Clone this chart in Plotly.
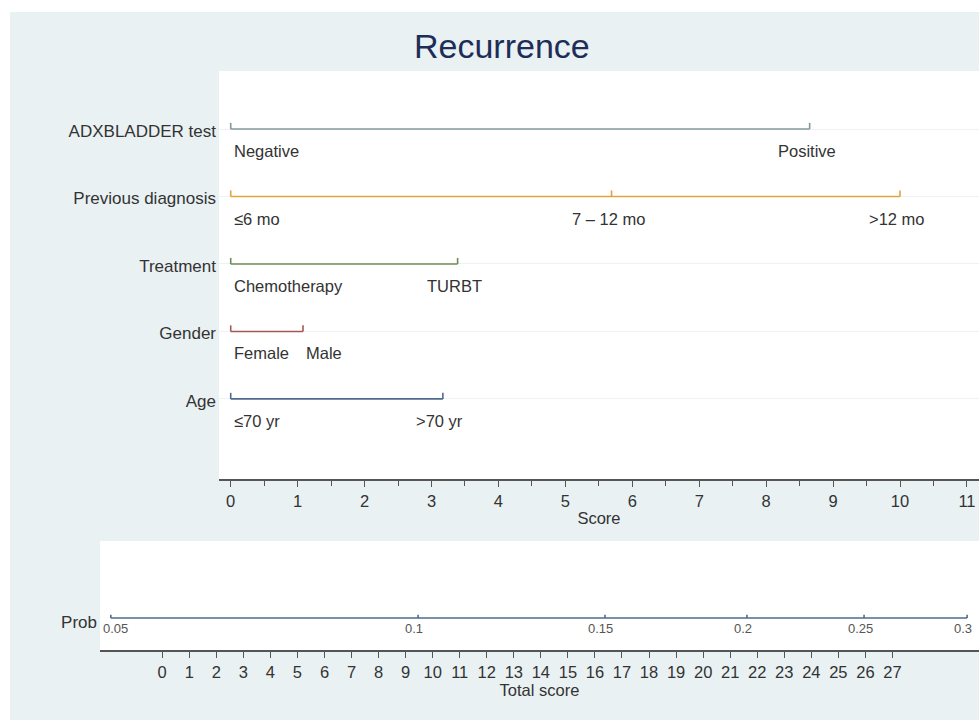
import numpy as np
import plotly.graph_objects as go

# ---------------- data ----------------
variables = ["ADXBLADDER test", "Previous diagnosis", "Treatment", "Gender", "Age"]
levels = [
    ["Negative", "Positive"],
    ["≤6 mo", "7 – 12 mo", ">12 mo"],
    ["Chemotherapy", "TURBT"],
    ["Female", "Male"],
    ["≤70 yr", ">70 yr"],
]
level_scores = [
    [0, 8.65],
    [0, 5.69, 10.0],
    [0, 3.39],
    [0, 1.08],
    [0, 3.17],
]
score_ticks = list(range(0, 12))
total_ticks = list(range(0, 28))
prob_labels = ["0.05", "0.1", "0.15", "0.2", "0.25", "0.3"]
prob_total_score = [-1.90, 9.46, 16.37, 21.62, 25.95, 29.76]

# ---------------- style ----------------
W, H = 979, 720
colors = ["#82999a", "#e2a23c", "#6f8d52", "#a65656", "#4e6b8e"]
label_anchor = [
    ["left", "center"],
    ["left", "center", "center"],
    ["left", "center"],
    ["left", "left"],
    ["left", "center"],
]
prob_color = "#4e6b8e"
text_color = "#333333"
axis_color = "#555555"
FONT = "Liberation Sans, Arial, sans-serif"

def py(p):  # pixel y -> paper
    return (H - p) / H

def px(p):
    return p / W

fig = go.Figure()

rows = list(range(len(variables), 0, -1))  # 5..1
tick_h = 0.09
annotations = []
for i, (var, levs, vals) in enumerate(zip(variables, levels, level_scores)):
    r = rows[i]
    xs = [min(vals), max(vals), None]
    ys = [r, r, None]
    for v in vals:
        xs += [v, v, None]
        ys += [r, r + tick_h, None]
    fig.add_trace(go.Scatter(x=xs, y=ys, mode="lines",
                             line=dict(color=colors[i], width=1.6),
                             hoverinfo="skip", showlegend=False,
                             xaxis="x", yaxis="y"))
    for lab, v, anc in zip(levs, vals, label_anchor[i]):
        annotations.append(dict(x=v, y=r, xref="x", yref="y", text=lab,
                                showarrow=False, xanchor=anc, yanchor="middle",
                                yshift=-22, xshift=(1 if anc == "left" else -3),
                                font=dict(size=16.5, color=text_color, family=FONT)))

# probability line
prow = 1
pxs = [min(prob_total_score), max(prob_total_score), None]
pys = [prow, prow, None]
for v in prob_total_score:
    pxs += [v, v, None]
    pys += [prow, prow + 0.05, None]
fig.add_trace(go.Scatter(x=pxs, y=pys, mode="lines",
                         line=dict(color=prob_color, width=1.6),
                         hoverinfo="skip", showlegend=False,
                         xaxis="x2", yaxis="y2"))
for lab, v in zip(prob_labels, prob_total_score):
    annotations.append(dict(x=v, y=prow, xref="x2", yref="y2", text=lab,
                            showarrow=False, xanchor="center", yanchor="middle",
                            yshift=-10, xshift=(5 if lab == "0.05" else -4),
                            font=dict(size=13, color="#555555", family=FONT)))

annotations.append(dict(x=px(502), y=py(46), xref="paper", yref="paper",
                        text="Recurrence", showarrow=False,
                        xanchor="center", yanchor="middle",
                        font=dict(size=34, color="#1e2d58", family=FONT)))

fig.update_layout(
    width=W, height=H,
    margin=dict(l=0, r=0, t=0, b=0),
    paper_bgcolor="#e9f1f3",
    plot_bgcolor="white",
    font=dict(family=FONT, size=16, color=text_color),
    showlegend=False,
    annotations=annotations,
    shapes=[
        dict(type="rect", xref="paper", yref="paper", x0=0, x1=1, y0=py(12), y1=1,
             fillcolor="white", line=dict(width=0), layer="below"),
        dict(type="rect", xref="paper", yref="paper", x0=0, x1=px(10), y0=0, y1=1,
             fillcolor="white", line=dict(width=0), layer="below"),
    ],
    xaxis=dict(domain=[px(219), 1], range=[-0.175, 11.18], anchor="y",
               tickmode="array", tickvals=score_ticks,
               ticks="outside", ticklen=6, tickcolor=axis_color, tickwidth=1.3,
               minor=dict(ticks="outside", ticklen=5, tickcolor=axis_color,
                          tickwidth=1.3, tickmode="array",
                          tickvals=[t + 0.5 for t in score_ticks[:-1]]),
               showline=True, linecolor=axis_color, linewidth=1.5,
               showgrid=False, zeroline=False,
               tickfont=dict(size=16.5, color=text_color),
               title=dict(text="Score", standoff=4,
                          font=dict(size=16.5, color=text_color))),
    yaxis=dict(domain=[py(479), py(71)], range=[-0.187, 5.86], anchor="x",
               tickmode="array", tickvals=rows, ticktext=variables,
               ticks="", showline=False, zeroline=False,
               showgrid=True, gridcolor="#edf2f4", gridwidth=1,
               tickfont=dict(size=17, color=text_color), ticklabelstandoff=2,
               ticklabelshift=2),
    xaxis2=dict(domain=[px(100), 1], range=[-2.30, 30.20], anchor="y2",
                tickmode="array", tickvals=total_ticks,
                ticks="outside", ticklen=6, tickcolor=axis_color, tickwidth=1.3,
                showline=True, linecolor=axis_color, linewidth=1.5,
                showgrid=False, zeroline=False,
                tickfont=dict(size=16.5, color=text_color),
                title=dict(text="Total score", standoff=2,
                           font=dict(size=16.5, color=text_color))),
    yaxis2=dict(domain=[py(650), py(541)], range=[1 - 32 / 67.4, 1 + 77 / 67.4],
                anchor="x2", tickmode="array", tickvals=[prow], ticktext=["Prob"],
                ticks="", showline=False, zeroline=False, showgrid=False,
                tickfont=dict(size=17, color=text_color), ticklabelstandoff=2,
                ticklabelshift=4),
)

fig.write_html("out.html")
